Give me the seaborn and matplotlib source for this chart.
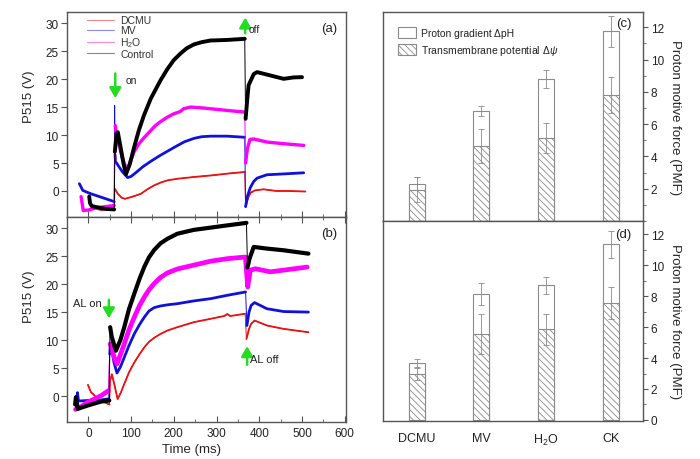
import matplotlib
matplotlib.use('Agg')
import matplotlib.pyplot as plt
import seaborn as sns
from matplotlib.lines import Line2D
from matplotlib.patches import Patch
from matplotlib.ticker import MultipleLocator, AutoMinorLocator

# ---------------- data: panel (a) ----------------
A_DCMU_T = [20, 30, 40, 50, 61, 62, 64, 70, 78, 86, 95, 108, 123, 138, 154, 169, 185, 210, 247, 290, 325, 366, 368, 371, 375, 380, 390, 410, 440, 470, 508]
A_DCMU_V = [-3.2, -3.4, -3.3, -3.4, -3.3, 0.4, 0.1, -0.6, -1.2, -1.4, -1.2, -0.9, -0.5, 0.3, 1.0, 1.5, 1.9, 2.2, 2.5, 2.8, 3.1, 3.4, -2.8, -2.0, -1.0, -0.3, 0.1, 0.3, 0.0, 0.0, -0.1]
A_MV_T = [-21, -13, 6, 29.5, 60.5, 61.5, 62.5, 63.5, 66, 72, 80, 92, 100, 110, 127, 146, 169, 185, 208, 225, 247, 265, 286, 325, 366, 368, 372, 379, 387, 395, 418, 457, 504]
A_MV_V = [1.3, 0.1, -0.5, -1.1, -1.9, 15.3, 6.5, 5.2, 5.0, 4.3, 3.4, 2.4, 2.6, 3.2, 4.3, 5.3, 6.4, 7.1, 8.1, 8.8, 9.4, 9.7, 9.8, 9.8, 9.6, -2.8, -1.0, 0.6, 1.7, 2.3, 2.9, 3.05, 3.25]
A_H2O_T = [-17, -12, 0, 20, 40, 60.5, 62, 63, 66, 70, 80, 90, 97, 107, 118, 130, 146, 157, 169, 185, 200, 215, 223, 239, 260, 286, 325, 366, 368, 372, 378, 387, 418, 457, 504]
A_H2O_V = [-1.0, -3.5, -3.4, -3.0, -2.8, -2.6, 8.0, 11.7, 9.8, 8.8, 5.8, 3.7, 5.0, 7.0, 8.4, 9.5, 10.8, 11.7, 12.4, 13.2, 13.8, 14.2, 14.7, 15.0, 14.9, 14.7, 14.4, 14.1, 5.0, 7.5, 9.2, 9.3, 8.75, 8.45, 8.15]
A_CTRL_T = [2, 4, 8, 20, 40, 60.5, 62, 66, 69, 75, 82, 88, 97, 107, 118, 130, 146, 169, 185, 200, 216, 230, 247, 265, 286, 325, 366, 368, 372, 375, 387, 395, 426, 457, 480, 500]
A_CTRL_V = [-1.0, -2.2, -2.7, -2.9, -3.2, -3.3, 7.0, 10.3, 10.5, 8.0, 5.0, 3.0, 4.8, 7.8, 10.8, 13.5, 16.5, 19.8, 21.8, 23.4, 24.6, 25.5, 26.2, 26.6, 26.9, 27.0, 27.2, 12.9, 16.5, 18.9, 20.9, 21.25, 20.65, 20.05, 20.3, 20.35]

# ---------------- data: panel (b) ----------------
B_DCMU_T = [-1, 6, 13, 22, 35, 47, 49.5, 52, 55, 61, 68.5, 76, 84, 95, 107.5, 120, 131, 142, 154, 169, 185, 208, 247, 286, 318, 325, 332, 367, 370, 376, 381, 389, 418, 457, 515]
B_DCMU_V = [2.0, 0.7, 0.2, -0.5, -1.0, -1.45, -1.5, 3.0, 3.9, 2.0, -0.55, 0.6, 2.15, 4.2, 6.0, 7.5, 8.7, 9.7, 10.4, 11.1, 11.7, 12.3, 13.2, 13.8, 14.3, 14.65, 14.3, 14.7, 10.2, 12.0, 12.9, 13.5, 12.6, 12.0, 11.4]
B_MV_T = [-27, -25.5, -23, -1.6, 29.5, 48, 50, 51.5, 55, 60, 67, 75, 84, 95, 107.5, 120, 131, 142, 154, 169, 185, 208, 247, 286, 325, 368, 371, 376, 381, 389, 418, 457, 515]
B_MV_V = [-0.6, 0.6, -0.9, -0.8, -0.7, -0.5, 7.5, 9.4, 8.3, 6.0, 4.1, 5.2, 6.9, 9.0, 11.1, 12.8, 14.1, 15.2, 15.8, 16.1, 16.3, 16.5, 17.0, 17.4, 18.0, 18.6, 12.6, 15.0, 16.2, 16.7, 15.6, 15.1, 15.0]
B_H2O_T = [-30, -15, -1.6, 15, 29.5, 47, 48.5, 51, 55, 60, 67, 75, 84, 95, 107.5, 120, 131, 142, 154, 169, 185, 208, 230, 247, 286, 325, 367.5, 373, 379, 391, 426, 457, 512]
B_H2O_V = [-2.4, -1.8, -1.1, -0.5, 0.05, 0.95, 5.0, 9.3, 8.5, 7.0, 5.7, 7.4, 9.3, 11.8, 14.1, 16.2, 17.7, 19.0, 20.1, 21.2, 22.0, 22.7, 23.1, 23.4, 24.1, 24.55, 24.85, 19.5, 22.5, 22.75, 22.2, 22.5, 23.05]
B_CTRL_T = [-31, -29, -25, -1.6, 29.5, 49, 50, 51, 55, 64.5, 75, 84, 95, 107.5, 120, 131, 142, 154, 169, 185, 208, 230, 247, 286, 325, 370, 372.5, 377, 387, 418, 457, 515]
B_CTRL_V = [-1.5, -0.2, -2.3, -1.7, -1.0, -0.8, 9.0, 12.3, 10.5, 8.1, 10.0, 12.3, 15.5, 18.3, 21.0, 23.1, 24.8, 26.1, 27.3, 28.1, 29.0, 29.4, 29.7, 30.1, 30.5, 30.95, 23.0, 24.5, 26.65, 26.35, 26.05, 25.45]

SERIES_LABELS = ['DCMU', 'MV', 'H$_2$O', 'Control']

# ---------------- data: panels (c), (d) ----------------
CATS = ['DCMU', 'MV', 'H$_2$O', 'CK']
C_TOTAL = [2.3, 6.8, 8.8, 11.75]
C_TOTAL_ERR = [0.4, 0.3, 0.55, 0.95]
C_PSI = [1.95, 4.65, 5.15, 7.8]
C_PSI_ERR = [0.75, 1.05, 0.95, 1.1]
D_TOTAL = [3.66, 8.13, 8.69, 11.35]
D_TOTAL_ERR = [0.25, 0.7, 0.56, 0.87]
D_PSI = [2.97, 5.57, 5.87, 7.53]
D_PSI_ERR = [0.37, 1.3, 1.0, 1.04]

# ---------------- style ----------------
sns.set_style('ticks')
plt.rcParams['font.family'] = ['Liberation Sans', 'DejaVu Sans']
plt.rcParams['mathtext.fontset'] = 'custom'
plt.rcParams['mathtext.rm'] = 'Liberation Sans'
plt.rcParams['mathtext.it'] = 'Liberation Sans:italic'
plt.rcParams['hatch.color'] = '#777777'
plt.rcParams['hatch.linewidth'] = 0.6
plt.rcParams['axes.edgecolor'] = '#555555'
plt.rcParams['axes.linewidth'] = 1.0
plt.rcParams['xtick.color'] = '#555555'
plt.rcParams['ytick.color'] = '#555555'
plt.rcParams['xtick.labelcolor'] = '#222222'
plt.rcParams['ytick.labelcolor'] = '#222222'
plt.rcParams['text.color'] = '#222222'

RED, BLUE, MAG, BLK = '#ee1111', '#1010dd', '#ff00ff', '#000000'
GREEN = '#22dd22'

fig = plt.figure(figsize=(7, 4.6), dpi=100)
axA = fig.add_axes([0.0957, 0.5261, 0.3986, 0.4457])
axB = fig.add_axes([0.0957, 0.0804, 0.3986, 0.4457])
axC = fig.add_axes([0.5471, 0.5174, 0.3714, 0.4543])
axD = fig.add_axes([0.5471, 0.0826, 0.3714, 0.4348])


def trace(ax, t, v, color, lw):
    # thin line for the whole record (fast light-on / light-off transients)
    sns.lineplot(x=t, y=v, color=color, lw=0.7, sort=False, estimator=None,
                 ax=ax, legend=False)
    # thick (noisy-looking) band for the slow phases between the jumps
    start = 0
    for i in range(1, len(t)):
        if (t[i] - t[i - 1]) <= 3 and abs(v[i] - v[i - 1]) > 3:
            if i - start > 1:
                sns.lineplot(x=t[start:i], y=v[start:i], color=color, lw=lw, sort=False,
                             estimator=None, ax=ax, legend=False, solid_joinstyle='round',
                             solid_capstyle='round')
            start = i
    sns.lineplot(x=t[start:], y=v[start:], color=color, lw=lw, sort=False,
                 estimator=None, ax=ax, legend=False, solid_joinstyle='round',
                 solid_capstyle='round')


trace(axA, A_DCMU_T, A_DCMU_V, RED, 1.3)
trace(axA, A_MV_T, A_MV_V, BLUE, 2.0)
trace(axA, A_H2O_T, A_H2O_V, MAG, 2.4)
trace(axA, A_CTRL_T, A_CTRL_V, BLK, 2.8)

trace(axB, B_DCMU_T, B_DCMU_V, RED, 1.3)
trace(axB, B_MV_T, B_MV_V, BLUE, 2.0)
trace(axB, B_H2O_T, B_H2O_V, MAG, 3.4)
trace(axB, B_CTRL_T, B_CTRL_V, BLK, 3.0)

for ax in (axA, axB):
    ax.set_xlim(-50, 603)
    ax.set_ylim(-4.65, 32)
    ax.xaxis.set_major_locator(MultipleLocator(100))
    ax.xaxis.set_minor_locator(MultipleLocator(50))
    ax.yaxis.set_major_locator(MultipleLocator(5))
    ax.tick_params(axis='y', direction='out', length=4, labelsize=8.5, pad=2)
    ax.tick_params(axis='x', which='major', direction='in', length=4, labelsize=8.5)
    ax.tick_params(axis='x', which='minor', direction='in', length=2)
    ax.set_ylabel('P515 (V)', fontsize=9.5)
    ax.set_xlabel('')

axA.tick_params(axis='x', which='both', labelbottom=False)
axB.tick_params(axis='x', which='both', top=True)
axB.set_xlabel('Time (ms)', fontsize=9.5)
axB.xaxis.set_label_coords(0.448, -0.1)
axA.yaxis.set_label_coords(-0.115, 0.59)
axB.yaxis.set_label_coords(-0.115, 0.615)

handles = [Line2D([], [], color=c, lw=0.8) for c in ('#f08a8a', '#8a8ae8', '#f08af0', '#8a8a8a')]
axA.legend(handles, SERIES_LABELS, loc='upper left', bbox_to_anchor=(0.045, 1.02),
           frameon=False, fontsize=7.5, handlelength=2.6, handletextpad=0.6,
           labelspacing=0.0, borderpad=0.2, labelcolor='#333333')

arrow = dict(arrowstyle='-|>,head_width=0.35,head_length=0.6', color=GREEN, lw=1.8,
             shrinkA=0, shrinkB=0)
axA.annotate('', xy=(63, 16.6), xytext=(63, 21.0), arrowprops=arrow)
axA.text(87, 19.8, 'on', fontsize=7.5, va='center', ha='left')
axA.annotate('', xy=(367, 31.0), xytext=(367, 28.2), arrowprops=arrow)
axA.text(376, 28.9, 'off', fontsize=7.5, va='center', ha='left')
axA.text(0.97, 0.95, '(a)', transform=axA.transAxes, fontsize=9.5, ha='right', va='top')

axB.annotate('', xy=(48, 13.9), xytext=(48, 17.2), arrowprops=arrow)
axB.text(-36, 16.7, 'AL on', fontsize=8, va='center', ha='left')
axB.annotate('', xy=(371.5, 8.9), xytext=(371.5, 5.6), arrowprops=arrow)
axB.text(378, 6.7, 'AL off', fontsize=8, va='center', ha='left')
axB.text(0.97, 0.95, '(b)', transform=axB.transAxes, fontsize=9.5, ha='right', va='top')

# ---------------- bar panels ----------------
HATCH = '\\\\\\\\\\'
for ax, tot, tot_e, psi, psi_e in ((axC, C_TOTAL, C_TOTAL_ERR, C_PSI, C_PSI_ERR),
                                   (axD, D_TOTAL, D_TOTAL_ERR, D_PSI, D_PSI_ERR)):
    sns.barplot(x=CATS, y=tot, color='white', edgecolor='#8a8a8a', linewidth=0.8,
                width=0.25, errorbar=None, saturation=1, ax=ax)
    sns.barplot(x=CATS, y=psi, color='white', edgecolor='#8a8a8a', linewidth=0.8,
                width=0.25, errorbar=None, saturation=1, hatch=HATCH, ax=ax)
    pos = list(range(len(CATS)))
    ax.errorbar(pos, tot, yerr=tot_e, fmt='none', ecolor='#8a8a8a', elinewidth=0.6,
                capsize=2, capthick=0.6, zorder=4)
    ax.errorbar(pos, psi, yerr=psi_e, fmt='none', ecolor='#8a8a8a', elinewidth=0.6,
                capsize=2, capthick=0.6, zorder=4)
    ax.set_xlim(-0.52, 3.5)
    ax.yaxis.tick_right()
    ax.yaxis.set_label_position('right')
    ax.yaxis.set_minor_locator(AutoMinorLocator(2))
    ax.tick_params(axis='y', which='major', direction='out', length=3.5, labelsize=8.5, pad=2)
    ax.tick_params(axis='y', which='minor', direction='out', length=2)
    ax.tick_params(axis='x', length=0)
    ax.set_ylabel('Proton motive force (PMF)', fontsize=9.5, rotation=270, labelpad=12)
    ax.set_xlabel('')

axC.set_ylim(0, 12.95)
axC.set_yticks([2, 4, 6, 8, 10, 12])
axC.tick_params(axis='x', labelbottom=False)
axD.set_ylim(-0.065, 12.84)
axD.set_yticks([0, 2, 4, 6, 8, 10, 12])
axD.tick_params(axis='x', labelsize=9, pad=8)

axC.text(0.955, 0.975, '(c)', transform=axC.transAxes, fontsize=9.5, ha='right', va='top')
axD.text(0.955, 0.965, '(d)', transform=axD.transAxes, fontsize=9.5, ha='right', va='top')

leg_handles = [Patch(facecolor='white', edgecolor='#8a8a8a', lw=0.8),
               Patch(facecolor='white', edgecolor='#8a8a8a', lw=0.8, hatch=HATCH)]
axC.legend(leg_handles, ['Proton gradient \u0394pH', 'Transmembrane potential \u0394$\\psi$'],
           loc='upper left', bbox_to_anchor=(0.03, 0.965), frameon=False, fontsize=7.5,
           handlelength=1.75, handleheight=1.35, handletextpad=0.5, labelspacing=0.45,
           borderpad=0.2)

fig.savefig('out.png', dpi=100)
